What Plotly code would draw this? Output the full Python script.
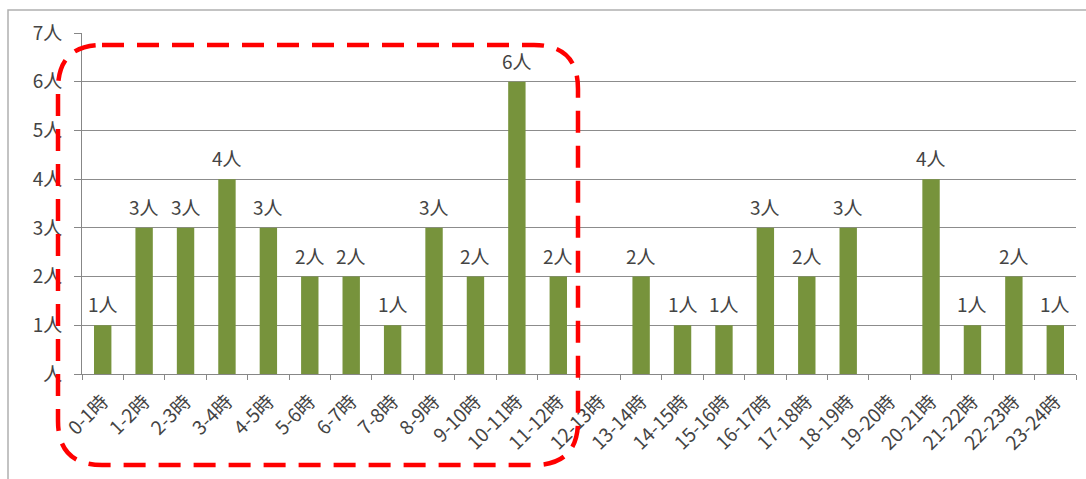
import plotly.graph_objects as go

# 時間帯別の人数
hours = ["0-1時", "1-2時", "2-3時", "3-4時", "4-5時", "5-6時", "6-7時", "7-8時",
         "8-9時", "9-10時", "10-11時", "11-12時", "12-13時", "13-14時", "14-15時",
         "15-16時", "16-17時", "17-18時", "18-19時", "19-20時", "20-21時",
         "21-22時", "22-23時", "23-24時"]
counts = [1, 3, 3, 4, 3, 2, 2, 1, 3, 2, 6, 2, 0, 2, 1, 1, 3, 2, 3, 0, 4, 1, 2, 1]
y_ticks = [0, 1, 2, 3, 4, 5, 6, 7]
y_tick_labels = ["人", "1人", "2人", "3人", "4人", "5人", "6人", "7人"]

W, H = 1086, 479
ML, MR, MT, MB = 82, 10, 33, 105
PW, PH = W - ML - MR, H - MT - MB


def px(x):
    return (x - ML) / PW


def py(y):
    return (H - MB - y) / PH


FONT = "Noto Sans CJK JP, Noto Sans, sans-serif"
TXT = "#444444"
SIZE = 19

fig = go.Figure(go.Bar(
    x=hours, y=counts, width=0.42,
    marker=dict(color="#77933c", line=dict(width=0)),
))

# value labels above the bars
annotations = [
    dict(x=h, y=v, xref="x", yref="y", text=f"{v}人", showarrow=False,
         yanchor="bottom", yshift=6,
         font=dict(family=FONT, size=SIZE, color=TXT))
    for h, v in zip(hours, counts) if v > 0
]


def rounded_rect(x0, y0, x1, y1, r):
    # pixel coordinates -> paper path with quadratic corners
    pts = [
        ("M", x0 + r, y0), ("L", x1 - r, y0), ("Q", x1, y0, x1, y0 + r),
        ("L", x1, y1 - r), ("Q", x1, y1, x1 - r, y1), ("L", x0 + r, y1),
        ("Q", x0, y1, x0, y1 - r), ("L", x0, y0 + r), ("Q", x0, y0, x0 + r, y0),
    ]
    out = []
    for p in pts:
        cmd = p[0]
        coords = p[1:]
        segs = []
        for i in range(0, len(coords), 2):
            segs.append(f"{px(coords[i]):.5f},{py(coords[i + 1]):.5f}")
        out.append(cmd + " " + " ".join(segs))
    return " ".join(out) + " Z"


shapes = [
    # outer frame
    dict(type="rect", xref="paper", yref="paper",
         x0=px(8), y0=py(10), x1=px(1100), y1=py(500),
         line=dict(color="#b0b0b0", width=1.5), layer="below"),
    # highlight box
    dict(type="path", xref="paper", yref="paper",
         path=rounded_rect(58, 45, 578, 465, 44),
         line=dict(color="#ff0000", width=4.5, dash="22px,13px")),
]

fig.update_layout(
    width=W, height=H,
    margin=dict(l=ML, r=MR, t=MT, b=MB),
    paper_bgcolor="white", plot_bgcolor="white",
    showlegend=False,
    font=dict(family=FONT, size=SIZE, color=TXT),
    shapes=shapes,
    annotations=annotations,
    xaxis=dict(
        type="category", tickangle=-45, tickson="boundaries",
        ticks="outside", ticklen=5, tickcolor="#878787",
        showline=True, linecolor="#878787", linewidth=1,
        showgrid=False, ticklabelstandoff=8,
        tickfont=dict(family=FONT, size=SIZE, color=TXT),
    ),
    yaxis=dict(
        range=[0, 7], tickvals=y_ticks, ticktext=y_tick_labels,
        ticks="outside", ticklen=7, tickcolor="#878787",
        showline=True, linecolor="#878787", linewidth=1,
        showgrid=True, gridcolor="#8c8c8c", gridwidth=1,
        zeroline=False, ticklabelstandoff=8,
        tickfont=dict(family=FONT, size=SIZE, color=TXT),
    ),
)

fig.write_html("out.html")
